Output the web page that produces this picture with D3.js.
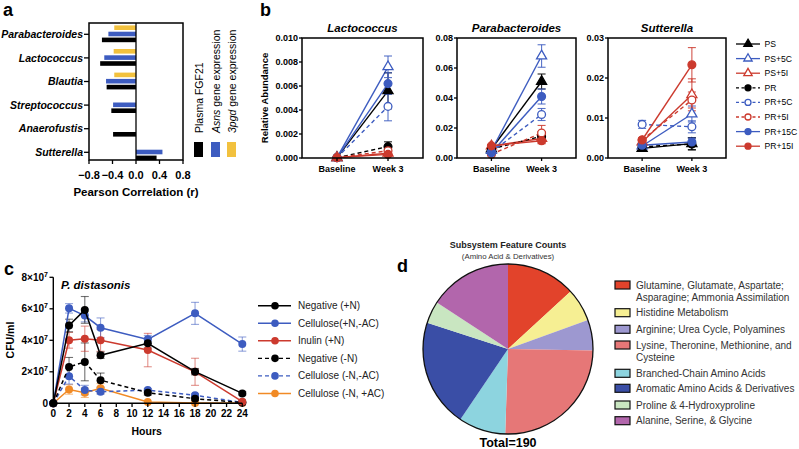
<!DOCTYPE html>
<html><head><meta charset="utf-8">
<script src="https://cdn.jsdelivr.net/npm/d3@7"></script>
<style>body{margin:0;background:#fff}svg{display:block;font-family:"Liberation Sans",Arial,Helvetica,sans-serif}</style>
</head><body><svg id="chart" width="799" height="449"></svg>
<script>
// ---------- DATA ----------
// Panel a
const aCats = ["Parabacteroides","Lactococcus","Blautia","Streptococcus","Anaerofustis","Sutterella"];
const aFGF21 = [-0.58,-0.61,-0.50,-0.42,-0.39,0.35];
const aAsns  = [-0.47,-0.54,-0.51,-0.39,null,0.45];
const a3pgd  = [-0.37,-0.38,-0.37,null,null,null];
const aTicks = [-0.8,-0.4,0.0,0.4,0.8];

// Panel b
const bGroups = ["PS","PS+5C","PS+5I","PR","PR+5C","PR+5I","PR+15C","PR+15I"];
const bTimes = ["Baseline","Week 3"];
const lactoBase   = [0.00003,0.00003,0.00003,0.00003,0.00003,0.00003,0.00003,0.00003];
const lactoWeek3  = [0.0056,0.0076,0.0004,0.00095,0.0043,0.0006,0.0062,0.0003];
const lactoErrW3  = [0.0015,0.0009,0.0002,0.0004,0.0012,0.0002,0.0009,0.0001];
const lactoTicks  = [0,0.002,0.004,0.006,0.008,0.010];
const paraBase    = [0.006,0.005,0.008,0.006,0.004,0.0025,0.0035,0.0081];
const paraErrBase = [0.001,0.001,0.001,0.001,0.001,0.001,0.001,0.001];
const paraWeek3   = [0.051,0.068,0.013,0.0145,0.029,0.0167,0.041,0.0115];
const paraErrW3   = [0.005,0.0075,0.003,0.003,0.004,0.005,0.005,0.002];
const paraTicks   = [0,0.02,0.04,0.06,0.08];
const suttBase    = [0.0024,0.003,0.004,0.0028,0.0084,0.0045,0.0032,0.0045];
const suttErrBase = [0.0004,0.0004,0.0005,0.0004,0.001,0.0005,0.0004,0.0005];
const suttWeek3   = [0.0036,0.011,0.0158,0.0035,0.0078,0.0145,0.004,0.0233];
const suttErrW3   = [0.0015,0.002,0.004,0.0015,0.0015,0.002,0.001,0.0043];
const suttTicks   = [0,0.01,0.02,0.03];

// Panel c
const cHours = [0,2,4,6,12,18,24];
const cNames = ["Negative (+N)","Cellulose(+N,-AC)","Inulin (+N)","Negative (-N)","Cellulose (-N,-AC)","Cellulose (-N, +AC)"];
const negPlusN     = [0,4.94,5.93,3.05,3.81,2.01,0.63];
const negPlusNErr  = [0,0.4,0.85,0.2,0.3,0.2,0.1];
const celPlusN     = [0,6.03,5.57,4.8,4.06,5.71,3.76];
const celPlusNErr  = [0,0.3,0.4,0.62,0.25,0.7,0.45];
const inuPlusN     = [0,4.0,4.1,4.0,3.38,2.0,0.1];
const inuPlusNErr  = [0,0.5,0.8,0.7,1.06,0.86,0.05];
const negMinusN    = [0,2.31,2.63,1.47,0.67,0.29,0.05];
const negMinusNErr = [0,0.6,1.2,0.45,0.15,0.1,0.03];
const celMinusN    = [0,1.72,0.84,0.73,0.84,0.51,0.05];
const celMinusNErr = [0,0.5,0.3,0.15,0.1,0.1,0.03];
const celAC        = [0,0.88,0.67,0.95,0.08,0.02,0.02];
const celACErr     = [0,0.3,0.3,0.3,0.03,0.02,0.02];
const cYTicks = [0,2,4,6,8];   // x10^7
const cXTicks = [0,2,4,6,8,10,12,14,16,18,20,22,24];

// Panel d
const dCategories = [
  ["Glutamine, Glutamate, Aspartate;","Asparagine; Ammonia Assimilation"],
  ["Histidine Metabolism"],
  ["Arginine; Urea Cycle, Polyamines"],
  ["Lysine, Theronine, Methionine, and","Cysteine"],
  ["Branched-Chain Amino Acids"],
  ["Aromatic Amino Acids & Derivatives"],
  ["Proline & 4-Hydroxyproline"],
  ["Alanine, Serine, & Glycine"]
];
const dCounts = [25,12,11,48,17,39,8,30];

// ---------- DRAW ----------
const svg = d3.select("#chart");
const BLUE = "#3d5cc0", RED = "#cc3a2e", YEL = "#f2c13e", ORG = "#f18a25";

function panelLabel(t,x,y){ svg.append("text").attr("x",x).attr("y",y).attr("font-size",18).attr("font-weight","bold").text(t); }
panelLabel("a",3,16); panelLabel("b",260,16); panelLabel("c",4,275); panelLabel("d",397,272);

// ===== Panel a =====
{
  const g = svg.append("g");
  const x = d3.scaleLinear().domain([-0.8,0.8]).range([89,183]);
  const y = d3.scalePoint().domain(aCats).range([34.3,152.3]);
  const series = [[a3pgd,-6.6,YEL],[aAsns,-0.3,BLUE],[aFGF21,5.6,"#000"]];
  series.forEach(([vals,off,col])=>{
    aCats.forEach((c,i)=>{
      const v = vals[i]; if(v==null) return;
      g.append("rect").attr("x",Math.min(x(0),x(v))).attr("width",Math.abs(x(v)-x(0)))
        .attr("y",y(c)+off-2.3).attr("height",4.6).attr("fill",col);
    });
  });
  g.append("line").attr("x1",x(0)).attr("x2",x(0)).attr("y1",23).attr("y2",160).attr("stroke","#000").attr("stroke-width",1.3);
  g.append("rect").attr("x",89).attr("y",23).attr("width",94).attr("height",137).attr("fill","none").attr("stroke","#000").attr("stroke-width",1.5);
  aCats.forEach(c=>{
    g.append("line").attr("x1",84).attr("x2",89).attr("y1",y(c)).attr("y2",y(c)).attr("stroke","#000").attr("stroke-width",1.3);
    g.append("text").attr("x",83).attr("y",y(c)).attr("dy","0.35em").attr("text-anchor","end")
      .attr("font-size",10.5).attr("font-weight","bold").attr("font-style","italic").text(c);
  });
  aTicks.forEach(t=>{
    g.append("line").attr("x1",x(t)).attr("x2",x(t)).attr("y1",160).attr("y2",164).attr("stroke","#000").attr("stroke-width",1.3);
    g.append("text").attr("x",x(t)).attr("y",179).attr("text-anchor","middle").attr("font-size",11).attr("font-weight","bold").text(d3.format(".1f")(t));
  });
  g.append("text").attr("x",136).attr("y",196).attr("text-anchor","middle").attr("font-size",11.5).attr("font-weight","bold").text("Pearson Correlation (r)");
  // legend
  const leg = [["#000",194,[["Plasma FGF21",false]]],[BLUE,211,[["Asns",true],[" gene expression",false]]],[YEL,227,[["3pgd",true],[" gene expression",false]]]];
  leg.forEach(([col,lx,parts])=>{
    g.append("rect").attr("x",lx).attr("y",142).attr("width",9).attr("height",15).attr("fill",col);
    const t = g.append("text").attr("transform",`translate(${lx+8.5},133) rotate(-90)`).attr("font-size",10.5);
    parts.forEach(([s,it])=>t.append("tspan").attr("font-style",it?"italic":"normal").text(s));
  });
}

// ===== Panel b =====
const bStyle = {
  "PS":    {c:"#000", dash:null, m:"tri", fill:true},
  "PS+5C": {c:BLUE, dash:null, m:"tri", fill:false},
  "PS+5I": {c:RED,  dash:null, m:"tri", fill:false},
  "PR":    {c:"#000", dash:"4,3", m:"cir", fill:true},
  "PR+5C": {c:BLUE, dash:"4,3", m:"cir", fill:false},
  "PR+5I": {c:RED,  dash:"4,3", m:"cir", fill:false},
  "PR+15C":{c:BLUE, dash:null, m:"cir", fill:true},
  "PR+15I":{c:RED,  dash:null, m:"cir", fill:true}
};
function marker(g,st,cx,cy,big){
  if(st.m==="tri"){
    g.append("path").attr("d",d3.symbol().type(d3.symbolTriangle).size(big?44:30)())
      .attr("transform",`translate(${cx},${cy})`).attr("fill",st.fill?st.c:"#fff").attr("stroke",st.c).attr("stroke-width",1.3);
  } else {
    g.append("circle").attr("cx",cx).attr("cy",cy).attr("r",big?3.9:3.0).attr("fill",st.fill?st.c:"#fff").attr("stroke",st.c).attr("stroke-width",1.3);
  }
}
function drawB(x0,x1,title,base,eBase,week,eWeek,ticks,fmt,ylab){
  const g = svg.append("g");
  const x = d3.scalePoint().domain(bTimes).range([x0,x1]).padding(0.686);
  const y = d3.scaleLinear().domain([0,ticks[ticks.length-1]]).range([158,38]);
  bGroups.forEach((grp,i)=>{
    const st = bStyle[grp];
    g.append("line").attr("x1",x("Baseline")).attr("y1",y(base[i])).attr("x2",x("Week 3")).attr("y2",y(week[i]))
      .attr("stroke",st.c).attr("stroke-width",1.4).attr("stroke-dasharray",st.dash);
  });
  bGroups.forEach((grp,i)=>{
    const st = bStyle[grp];
    [[ "Baseline",base[i],eBase?eBase[i]:0],["Week 3",week[i],eWeek[i]]].forEach(([t,v,e])=>{
      if(!e) return;
      const cx = x(t);
      const lo = Math.max(0,v-e);
      g.append("line").attr("x1",cx).attr("x2",cx).attr("y1",y(v+e)).attr("y2",y(lo)).attr("stroke",st.c).attr("stroke-width",1.1).attr("opacity",0.85);
      [v+e,lo].forEach(w=>g.append("line").attr("x1",cx-4).attr("x2",cx+4).attr("y1",y(w)).attr("y2",y(w)).attr("stroke",st.c).attr("stroke-width",1.1).attr("opacity",0.85));
    });
  });
  bGroups.forEach((grp,i)=>{
    const st = bStyle[grp];
    marker(g,st,x("Baseline"),y(base[i]),true);
    marker(g,st,x("Week 3"),y(week[i]),true);
  });
  g.append("rect").attr("x",x0).attr("y",38).attr("width",x1-x0).attr("height",120).attr("fill","none").attr("stroke","#000").attr("stroke-width",1.5);
  ticks.forEach(t=>{
    g.append("line").attr("x1",x0-3).attr("x2",x0).attr("y1",y(t)).attr("y2",y(t)).attr("stroke","#000").attr("stroke-width",1.3);
    g.append("text").attr("x",x0-4).attr("y",y(t)).attr("dy","0.35em").attr("text-anchor","end").attr("font-size",9).attr("font-weight","bold").text(d3.format(fmt)(t));
  });
  bTimes.forEach(t=>{
    g.append("line").attr("x1",x(t)).attr("x2",x(t)).attr("y1",158).attr("y2",161).attr("stroke","#000").attr("stroke-width",1.3);
    g.append("text").attr("x",x(t)).attr("y",172).attr("text-anchor","middle").attr("font-size",9).attr("font-weight","bold").text(t);
  });
  g.append("text").attr("x",(x0+x1)/2).attr("y",32).attr("text-anchor","middle").attr("font-size",11.5).attr("font-weight","bold").attr("font-style","italic").text(title);
  if(ylab) g.append("text").attr("transform",`translate(268,98) rotate(-90)`).attr("text-anchor","middle").attr("font-size",9.5).attr("font-weight","bold").text(ylab);
}
drawB(302,423,"Lactococcus",lactoBase,null,lactoWeek3,lactoErrW3,lactoTicks,".3f","Relative Abundance");
drawB(457,576,"Parabacteroides",paraBase,paraErrBase,paraWeek3,paraErrW3,paraTicks,".2f",null);
drawB(608,726,"Sutterella",suttBase,suttErrBase,suttWeek3,suttErrW3,suttTicks,".2f",null);
// legend b
{
  const g = svg.append("g");
  bGroups.forEach((grp,i)=>{
    const st = bStyle[grp]; const yy = 44 + i*14.6;
    g.append("line").attr("x1",736).attr("x2",760).attr("y1",yy).attr("y2",yy).attr("stroke",st.c).attr("stroke-width",1.3).attr("stroke-dasharray",st.dash?"3,2.5":null);
    marker(g,st,748,yy,false);
    g.append("text").attr("x",764.5).attr("y",yy).attr("dy","0.35em").attr("font-size",8.6).text(grp);
  });
}

// ===== Panel c =====
{
  const g = svg.append("g");
  const x = d3.scaleLinear().domain([0,24]).range([53.3,242.3]);
  const y = d3.scaleLinear().domain([0,8]).range([403.3,277.3]);
  const cData = [negPlusN,celPlusN,inuPlusN,negMinusN,celMinusN,celAC];
  const cErr = [negPlusNErr,celPlusNErr,inuPlusNErr,negMinusNErr,celMinusNErr,celACErr];
  const cCol = ["#000",BLUE,RED,"#000",BLUE,ORG];
  const cDash = [null,null,null,"4,3","4,3",null];
  const order = [5,4,3,2,1,0];
  order.forEach(s=>{
    cHours.forEach((h,i)=>{
      const v=cData[s][i], e=cErr[s][i]; if(!e||e<0.06) return;
      g.append("line").attr("x1",x(h)).attr("x2",x(h)).attr("y1",y(v+e)).attr("y2",y(Math.max(0,v-e))).attr("stroke",cCol[s]).attr("stroke-width",1.1).attr("opacity",0.55);
      [v+e,Math.max(0,v-e)].forEach(w=>g.append("line").attr("x1",x(h)-4).attr("x2",x(h)+4).attr("y1",y(w)).attr("y2",y(w)).attr("stroke",cCol[s]).attr("stroke-width",1.1).attr("opacity",0.55));
    });
  });
  order.forEach(s=>{
    const line = d3.line().x((d,i)=>x(cHours[i])).y(d=>y(d));
    g.append("path").attr("d",line(cData[s])).attr("fill","none").attr("stroke",cCol[s]).attr("stroke-width",1.5).attr("stroke-dasharray",cDash[s]);
    cHours.forEach((h,i)=>g.append("circle").attr("cx",x(h)).attr("cy",y(cData[s][i])).attr("r",4).attr("fill",cCol[s]));
  });
  // axes
  g.append("line").attr("x1",53.3).attr("x2",53.3).attr("y1",277.3).attr("y2",403.3).attr("stroke","#000").attr("stroke-width",1.4);
  g.append("line").attr("x1",53.3).attr("x2",242.3).attr("y1",403.3).attr("y2",403.3).attr("stroke","#000").attr("stroke-width",1.4);
  cYTicks.forEach(t=>{
    g.append("line").attr("x1",49.5).attr("x2",53.3).attr("y1",y(t)).attr("y2",y(t)).attr("stroke","#000").attr("stroke-width",1.3);
    const tx = g.append("text").attr("x",48).attr("y",y(t)).attr("dy","0.35em").attr("text-anchor","end").attr("font-size",10).attr("font-weight","bold");
    if(t===0) tx.text("0");
    else { tx.append("tspan").text(t+"×10"); tx.append("tspan").attr("font-size",7).attr("dy",-4).text("7"); }
  });
  cXTicks.forEach(t=>{
    g.append("line").attr("x1",x(t)).attr("x2",x(t)).attr("y1",403.3).attr("y2",407).attr("stroke","#000").attr("stroke-width",1.3);
    g.append("text").attr("x",x(t)).attr("y",417).attr("text-anchor","middle").attr("font-size",10).attr("font-weight","bold").text(t);
  });
  g.append("text").attr("x",146.7).attr("y",435).attr("text-anchor","middle").attr("font-size",10.5).attr("font-weight","bold").text("Hours");
  g.append("text").attr("transform","translate(14,340) rotate(-90)").attr("text-anchor","middle").attr("font-size",10.5).attr("font-weight","bold").text("CFU/ml");
  g.append("text").attr("x",61).attr("y",289).attr("font-size",11.5).attr("font-weight","bold").attr("font-style","italic").text("P. distasonis");
  // legend
  cNames.forEach((n,i)=>{
    const yy = 305.7 + i*17.55;
    g.append("line").attr("x1",258).attr("x2",291).attr("y1",yy).attr("y2",yy).attr("stroke",cCol[i]).attr("stroke-width",1.4).attr("stroke-dasharray",cDash[i]?"4,3":null);
    g.append("circle").attr("cx",275).attr("cy",yy).attr("r",3.8).attr("fill",cCol[i]);
    g.append("text").attr("x",298).attr("y",yy).attr("dy","0.35em").attr("font-size",10).attr("fill","#222").text(n);
  });
}

// ===== Panel d =====
{
  const g = svg.append("g");
  const cx=508, cy=349, r=85;
  const dColors = ["#e2432b","#f6ef93","#9d98d0","#e67777","#8dd4df","#3a4ea6","#c9e6c1","#b266ac"];
  const pie = d3.pie().sort(null).value(d=>d)(dCounts);
  const arc = d3.arc().innerRadius(0).outerRadius(r);
  g.selectAll("path.s").data(pie).join("path").attr("class","s").attr("d",arc).attr("transform",`translate(${cx},${cy})`).attr("fill",(d,i)=>dColors[i]);
  g.append("circle").attr("cx",cx).attr("cy",cy).attr("r",r).attr("fill","none").attr("stroke","#111").attr("stroke-width",1.3);
  g.append("text").attr("x",cx).attr("y",247.5).attr("text-anchor","middle").attr("font-size",9).attr("font-weight","bold").attr("fill","#222").text("Subsystem Feature Counts");
  g.append("text").attr("x",cx).attr("y",258.5).attr("text-anchor","middle").attr("font-size",7.8).attr("fill","#333").text("(Amino Acid & Derivatives)");
  g.append("text").attr("x",cx).attr("y",446.5).attr("text-anchor","middle").attr("font-size",12.5).attr("font-weight","bold").text("Total="+d3.sum(dCounts));
  const rows = [285,312.7,329.3,345,373.3,388.3,405,420.7];
  dCategories.forEach((lines,i)=>{
    g.append("rect").attr("x",615).attr("y",rows[i]-4).attr("width",15).attr("height",8).attr("fill",dColors[i]).attr("stroke","#111").attr("stroke-width",1.2);
    lines.forEach((l,j)=>g.append("text").attr("x",636).attr("y",rows[i]+j*12.5).attr("dy","0.35em").attr("font-size",10).attr("fill","#333").text(l));
  });
}
</script></body></html>
